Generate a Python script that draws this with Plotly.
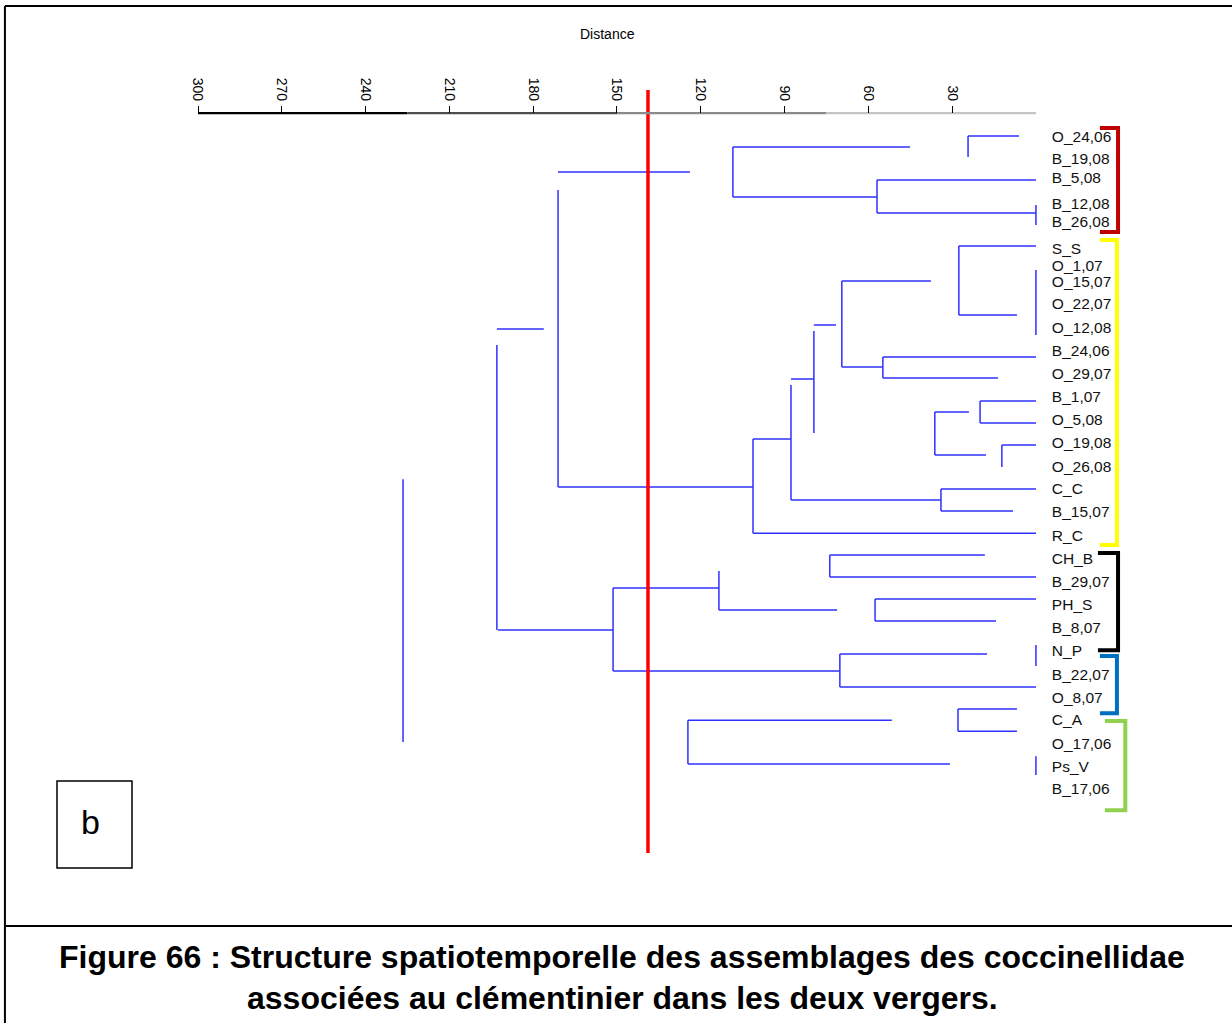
import plotly.graph_objects as go

# ---------------- data ----------------
leaf_labels = ["O_24,06", "B_19,08", "B_5,08", "B_12,08", "B_26,08", "S_S", "O_1,07", "O_15,07",
               "O_22,07", "O_12,08", "B_24,06", "O_29,07", "B_1,07", "O_5,08", "O_19,08", "O_26,08",
               "C_C", "B_15,07", "R_C", "CH_B", "B_29,07", "PH_S", "B_8,07", "N_P", "B_22,07",
               "O_8,07", "C_A", "O_17,06", "Ps_V", "B_17,06"]
leaf_rows = [0, 0.98, 1.82, 2.98, 3.78, 4.98, 5.74, 6.44, 7.42, 8.49, 9.51, 10.53, 11.56, 12.58,
             13.6, 14.67, 15.64, 16.67, 17.73, 18.76, 19.78, 20.8, 21.82, 22.84, 23.91, 24.93,
             25.91, 26.98, 28.0, 28.98]

# horizontal links: row, distance start, distance end
h_rows = [-0.09, 1.51, 0.4, 2.62, 1.87, 3.33, 8.49, 15.51, 21.87, 4.8, 7.87, 6.36, 10.18, 9.73,
          10.67, 8.31, 10.71, 13.38, 16.09, 15.6, 16.58, 17.56, 12.18, 14.09, 11.69, 12.67, 13.64,
          18.53, 19.51, 20.0, 20.98, 20.49, 21.47, 23.69, 22.93, 24.4, 25.38, 26.36, 25.87, 27.82]
h_from = [24.3, 171.1, 108.5, 108.5, 56.9, 56.9, 193.0, 171.1, 192.6, 27.6, 27.6, 69.5, 69.5, 54.8,
          54.8, 79.5, 87.7, 101.3, 87.7, 34.0, 34.0, 101.3, 36.2, 36.2, 20.0, 20.0, 12.2,
          73.8, 73.8, 151.4, 113.5, 57.6, 57.6, 151.4, 70.2, 70.2, 27.9, 27.9, 124.6, 124.6]
h_to = [6.1, 123.9, 45.1, 56.9, 0, 0, 176.2, 101.3, 151.4, 0, 6.8, 37.6, 54.8, 0,
        13.6, 71.6, 79.5, 87.7, 34.0, 0, 8.2, 0, 24.0, 17.9, 0, 0, 0,
        18.3, 0, 113.5, 71.2, 0, 14.3, 70.2, 17.5, 0, 6.8, 6.8, 51.6, 30.8]

# vertical links: distance, row start, row end
v_dist = [24.3, 108.5, 56.9, 0, 171.1, 193.0, 27.6, 0, 69.5, 54.8, 79.5, 87.7, 101.3, 34.0, 36.2,
          20.0, 12.2, 73.8, 151.4, 113.5, 57.6, 0, 70.2, 27.9, 124.6, 0, 226.6]
v_from = [-0.09, 0.4, 1.87, 2.98, 2.31, 9.2, 4.8, 5.87, 6.36, 9.73, 8.58, 10.98, 13.38, 15.6, 12.18,
          11.69, 13.64, 18.53, 20.0, 19.24, 20.49, 22.53, 22.93, 25.38, 25.87, 27.47, 15.16]
v_to = [0.84, 2.62, 3.33, 3.87, 15.51, 21.87, 7.87, 8.76, 10.18, 10.67, 13.11, 16.09, 17.56, 16.58, 14.09,
        12.67, 14.62, 19.51, 23.69, 20.98, 21.47, 23.47, 24.4, 26.36, 27.82, 28.31, 26.84]

cut_distance = 138.9
cut_rows = [-2.13, 31.78]

tick_values = [300, 270, 240, 210, 180, 150, 120, 90, 60, 30]
axis_breaks = [300, 225, 150, 75, 0]
axis_colors = ["#000000", "#4d4d4d", "#8a8a8a", "#c4c4c4"]
axis_row = -1.11

group_colors = ["#c00000", "#ffff00", "#000000", "#0070c0", "#92d050"]
group_top = [-0.44, 4.53, 18.44, 23.02, 25.91]
group_bottom = [4.18, 18.09, 22.76, 25.56, 29.87]
group_spine = [-29.4, -29.0, -29.4, -29.0, -32.0]
group_arm = [-22.9, -22.9, -22.2, -22.9, -24.7]

label_dist = -5.7

caption_1 = "Figure 66 : Structure spatiotemporelle des assemblages des coccinellidae"
caption_2 = "associées au clémentinier dans les deux vergers."

# ---------------- figure ----------------
W, H = 1232, 1023
x_range = [370.9, -70.2]
y_range = [39.33, -6.133]
FONT = "Arial, Liberation Sans"

fig = go.Figure()

xs, ys = [], []
for r, a, b in zip(h_rows, h_from, h_to):
    xs += [a, b, None]
    ys += [r, r, None]
for d, a, b in zip(v_dist, v_from, v_to):
    xs += [d, d, None]
    ys += [a, b, None]
fig.add_trace(go.Scatter(x=xs, y=ys, mode="lines", line=dict(color="#2f2fff", width=1.5),
                         hoverinfo="skip", showlegend=False))

# threshold
fig.add_trace(go.Scatter(x=[cut_distance, cut_distance], y=cut_rows, mode="lines",
                         line=dict(color="#ff0000", width=3.5), hoverinfo="skip", showlegend=False))

# group brackets
for c, t, b, s, a in zip(group_colors, group_top, group_bottom, group_spine, group_arm):
    fig.add_trace(go.Scatter(x=[a, s, s, a], y=[t, t, b, b], mode="lines",
                             line=dict(color=c, width=4), hoverinfo="skip", showlegend=False))

# leaf labels
fig.add_trace(go.Scatter(x=[label_dist] * len(leaf_labels), y=leaf_rows, mode="text",
                         text=leaf_labels, textposition="middle right",
                         textfont=dict(family=FONT, size=15.5, color="#111111"),
                         hoverinfo="skip", showlegend=False))

# distance axis line (graded)
for i, col in enumerate(axis_colors):
    fig.add_trace(go.Scatter(x=[axis_breaks[i], axis_breaks[i + 1]], y=[axis_row, axis_row],
                             mode="lines", line=dict(color=col, width=2.2), xaxis="x2",
                             hoverinfo="skip", showlegend=False))

fig.update_layout(
    width=W, height=H,
    margin=dict(l=0, r=0, t=0, b=0),
    paper_bgcolor="white", plot_bgcolor="white",
    xaxis=dict(range=x_range, visible=False, domain=[0, 1]),
    xaxis2=dict(range=x_range, overlaying="x", anchor="free", position=1 - 113 / H, side="top",
                tickvals=tick_values, ticktext=[str(v) for v in tick_values],
                ticks="outside", ticklen=7, tickwidth=1, tickcolor="#000000",
                tickangle=90, tickfont=dict(family=FONT, size=14, color="#000000"),
                showline=False, showgrid=False, zeroline=False),
    yaxis=dict(range=y_range, visible=False, domain=[0, 1]),
    font=dict(family=FONT),
)

# frame lines
fig.add_shape(type="line", xref="paper", yref="paper", x0=0.004, x1=1, y0=1 - 6 / H, y1=1 - 6 / H,
              line=dict(color="#000000", width=2))
fig.add_shape(type="line", xref="paper", yref="paper", x0=0.004, x1=0.004, y0=0, y1=1 - 6 / H,
              line=dict(color="#000000", width=2))
fig.add_shape(type="line", xref="paper", yref="paper", x0=0.004, x1=1, y0=1 - 926 / H, y1=1 - 926 / H,
              line=dict(color="#000000", width=2))
# "b" box
fig.add_shape(type="rect", xref="paper", yref="paper", x0=57 / W, x1=132 / W, y0=1 - 868 / H, y1=1 - 781 / H,
              line=dict(color="#000000", width=1.5))


def note(x, y, text, size, bold=False):
    fig.add_annotation(x=x / W, y=1 - y / H, xref="paper", yref="paper",
                       text=("<b>" + text + "</b>") if bold else text, showarrow=False,
                       xanchor="center", yanchor="middle",
                       font=dict(family=FONT, size=size, color="#000000"))


note(90, 822, "b", 34)
note(607, 34, "Distance", 14)
note(622, 957, caption_1, 32, bold=True)
note(622, 998, caption_2, 32, bold=True)

fig.write_html("out.html")
